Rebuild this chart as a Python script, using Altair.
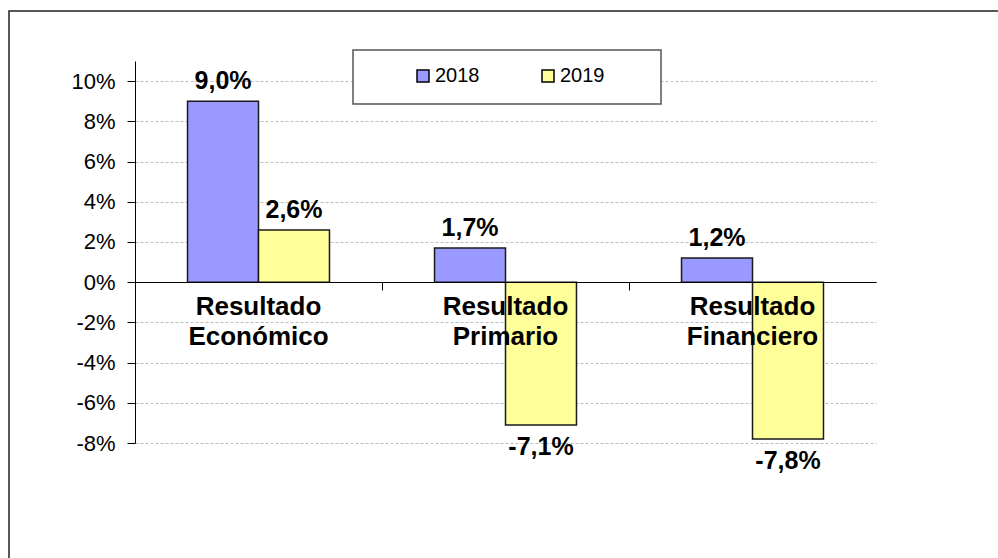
import altair as alt
import pandas as pd

categories = ["Resultado Económico", "Resultado Primario", "Resultado Financiero"]
cat_labels = ["Resultado\nEconómico", "Resultado\nPrimario", "Resultado\nFinanciero"]
years = ["2018", "2019"]
values_2018 = [0.090, 0.017, 0.012]
values_2019 = [0.026, -0.071, -0.078]
y_ticks = [-0.08, -0.06, -0.04, -0.02, 0.0, 0.02, 0.04, 0.06, 0.08, 0.10]
colors = ["#9999FF", "#FFFF99"]

rows = []
for c, a, b in zip(categories, values_2018, values_2019):
    rows.append({"cat": c, "year": "2018", "value": a})
    rows.append({"cat": c, "year": "2019", "value": b})
df = pd.DataFrame(rows)
cat_df = pd.DataFrame({"cat": categories, "label": cat_labels})
one = pd.DataFrame({"k": [0]})

FONT = "Liberation Sans"
W, H = 741, 382

x_enc = alt.X(
    "cat:N", sort=categories,
    scale=alt.Scale(paddingInner=0, paddingOuter=0),
    axis=alt.Axis(title=None, labels=False, bandPosition=0, tickSize=8,
                  tickColor="black", domainColor="black", grid=False,
                  offset=-161, zindex=1),
)
xoff = alt.XOffset("year:N", sort=years,
                   scale=alt.Scale(paddingInner=0, paddingOuter=0.74))
y_enc = alt.Y(
    "value:Q",
    scale=alt.Scale(domain=[-0.08, 0.11], nice=False, zero=False),
    axis=alt.Axis(
        title=None, values=y_ticks, tickSize=8, tickColor="black",
        domainColor="black", labelFont=FONT, labelFontSize=22,
        labelColor="black", labelPadding=12,
        labelExpr="(datum.value < -0.0001 ? '-' : '') + format(abs(datum.value)*100, '.0f') + '%'",
        grid=True, gridDash=[3, 2], gridColor="#bdbdbd",
    ),
)

outer = alt.Chart(one).mark_rect(
    fillOpacity=0, stroke="#222222", strokeWidth=1.5
).encode(x=alt.value(-126), x2=alt.value(900), y=alt.value(-50), y2=alt.value(560))

legend_box = alt.Chart(one).mark_rect(
    fill="white", stroke="#555555", strokeWidth=1.5
).encode(x=alt.value(218), x2=alt.value(526), y=alt.value(-11), y2=alt.value(43))

bars = alt.Chart(df).mark_bar(stroke="#1a1a1a", strokeWidth=1.5).encode(
    x=x_enc, xOffset=xoff, y=y_enc,
    color=alt.Color(
        "year:N", scale=alt.Scale(domain=years, range=colors),
        legend=alt.Legend(
            title=None, orient="none", legendX=278, legendY=5,
            direction="horizontal", symbolType="square", symbolSize=144,
            symbolStrokeColor="black", symbolStrokeWidth=1.5,
            labelFont=FONT, labelFontSize=20, labelColor="black",
            columnPadding=58, labelOffset=2, padding=0,
        ),
    ),
)

label_expr = "(datum.value < 0 ? '-' : '') + replace(format(abs(datum.value)*100, '.1f'), '.', ',') + '%'"

pos_labels = alt.Chart(df).transform_filter("datum.value >= 0").transform_calculate(
    lab=label_expr
).mark_text(font=FONT, fontSize=25, fontWeight="bold", color="black",
            baseline="alphabetic", dy=-12).encode(
    x=x_enc, xOffset=xoff, y=y_enc, text="lab:N"
)

neg_labels = alt.Chart(df).transform_filter("datum.value < 0").transform_calculate(
    lab=label_expr
).mark_text(font=FONT, fontSize=25, fontWeight="bold", color="black",
            baseline="alphabetic", dy=30).encode(
    x=x_enc, xOffset=xoff, y=y_enc, text="lab:N"
)

cat_text = alt.Chart(cat_df).mark_text(
    font=FONT, fontSize=26, fontWeight="bold", color="black",
    baseline="alphabetic", dy=33, lineBreak="\n", lineHeight=30,
).encode(x=x_enc, y=alt.datum(0), text="label:N")

chart = alt.layer(outer, legend_box, bars, pos_labels, neg_labels, cat_text).properties(
    width=W, height=H,
    padding={"left": 135, "top": 61, "right": 122, "bottom": 115},
    autosize=alt.AutoSizeParams(type="none"),
    background="white",
).configure_view(stroke=None)

chart.save("out.html", embed_options={"renderer": "svg", "actions": False})
